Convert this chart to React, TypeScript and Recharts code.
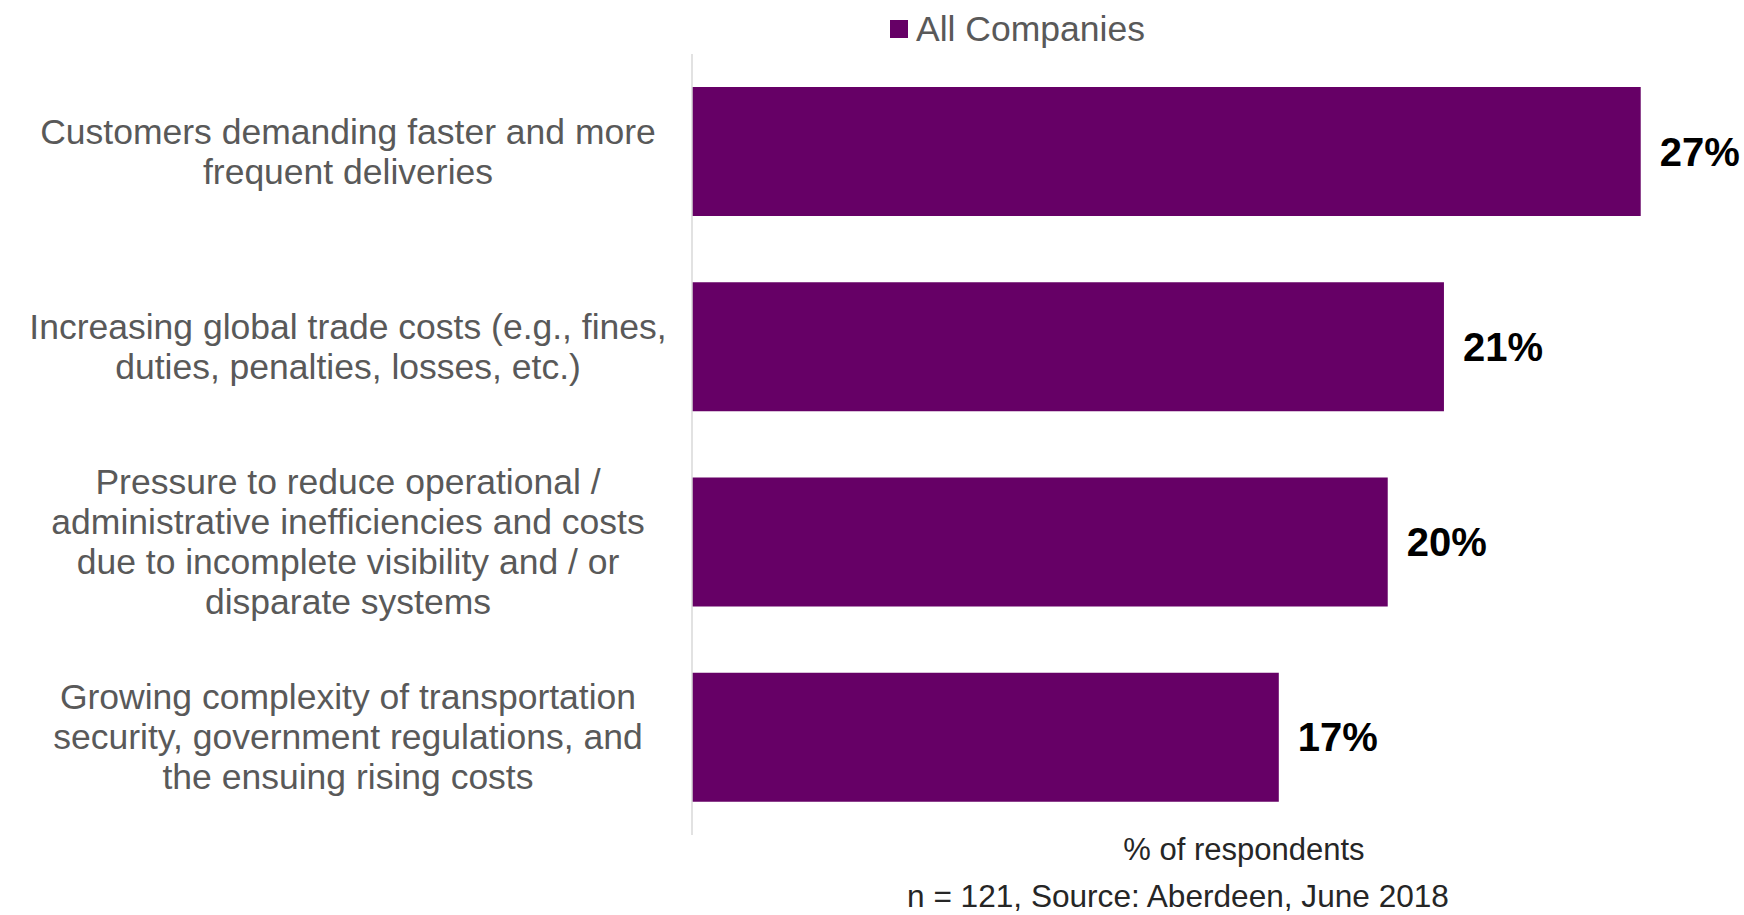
import React from 'react'
import { BarChart, Bar, XAxis, YAxis, Legend, LabelList, Label } from 'recharts'

// categories, top to bottom (line breaks as in the source slide)
const categories = [
  'Customers demanding faster and more\nfrequent deliveries',
  'Increasing global trade costs (e.g., fines,\nduties, penalties, losses, etc.)',
  'Pressure to reduce operational /\nadministrative inefficiencies and costs\ndue to incomplete visibility and / or\ndisparate systems',
  'Growing complexity of transportation\nsecurity, government regulations, and\nthe ensuing rising costs',
]

// % of respondents, All Companies
const allCompanies = [27.0, 21.4, 19.8, 16.7]

const seriesName = 'All Companies'
const xLabel = '% of respondents'
const sourceNote = 'n = 121, Source: Aberdeen, June 2018'

const PURPLE = '#660066'
const FONT = '"Liberation Sans", Arial, sans-serif'

const chartData = categories.map((name, i) => ({ name, value: allCompanies[i] }))

function CategoryTick(props: any) {
  const { x, y, payload } = props
  const lines: string[] = String(payload.value).split('\n')
  const lineH = 40
  const startY = y - ((lines.length - 1) * lineH) / 2
  const cx = x - 336
  return (
    <text x={cx} y={startY} textAnchor="middle" fill="#595959" fontSize={35.5} fontFamily={FONT}>
      {lines.map((l, i) => (
        <tspan key={i} x={cx} y={startY + i * lineH} dominantBaseline="central">
          {l}
        </tspan>
      ))}
    </text>
  )
}

function LegendContent() {
  return (
    <div style={{ display: 'flex', alignItems: 'center', fontFamily: FONT }}>
      <span style={{ width: 18, height: 18, background: PURPLE, marginRight: 8 }} />
      <span style={{ fontSize: 35.5, color: '#595959', lineHeight: '40px' }}>{seriesName}</span>
    </div>
  )
}

function FooterLabel(props: any) {
  const { viewBox } = props
  const { x, y } = viewBox
  return (
    <g fontFamily={FONT}>
      <text x={x + 552} y={y + 14} textAnchor="middle" dominantBaseline="central" fontSize={31} fill="#262626">
        {xLabel}
      </text>
      <text x={x + 486} y={y + 61} textAnchor="middle" dominantBaseline="central" fontSize={31.6} fill="#262626">
        {sourceNote}
      </text>
    </g>
  )
}

export default function App() {
  return (
    <div style={{ position: 'absolute', left: 0, top: 0, background: '#fff' }}>
      <BarChart
        width={1744}
        height={915}
        data={chartData}
        layout="vertical"
        margin={{ top: 14, right: 33, bottom: 0, left: 0 }}
      >
        <XAxis
          type="number"
          domain={[0, 29]}
          axisLine={false}
          tickLine={false}
          tick={false}
          height={80}
        >
          <Label content={<FooterLabel />} />
        </XAxis>
        <YAxis
          type="category"
          dataKey="name"
          width={692}
          axisLine={{ stroke: '#d9d9d9', strokeWidth: 1.5 }}
          tickLine={false}
          tick={<CategoryTick />}
          interval={0}
        />
        <Legend
          verticalAlign="top"
          content={<LegendContent />}
          wrapperStyle={{ top: 9, left: 890, width: 'auto' }}
        />
        <Bar dataKey="value" name={seriesName} fill={PURPLE} barSize={129} isAnimationActive={false}>
          <LabelList
            dataKey="value"
            position="right"
            offset={19}
            formatter={(v: any) => `${Math.round(Number(v))}%`}
            fill="#000"
            fontSize={40}
            fontWeight="bold"
            fontFamily={FONT}
          />
        </Bar>
      </BarChart>
    </div>
  )
}
